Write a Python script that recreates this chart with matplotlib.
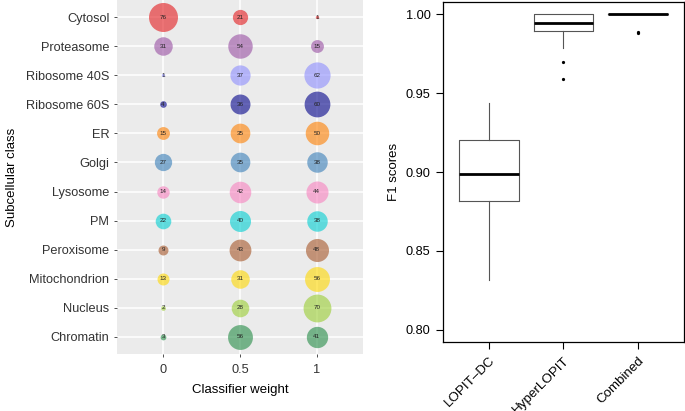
import matplotlib
matplotlib.use('Agg')
import matplotlib.pyplot as plt
import numpy as np

plt.rcParams['font.family'] = ['Liberation Sans', 'DejaVu Sans']

# bubble panel data
classes = ['Cytosol', 'Proteasome', 'Ribosome 40S', 'Ribosome 60S', 'ER', 'Golgi',
           'Lysosome', 'PM', 'Peroxisome', 'Mitochondrion', 'Nucleus', 'Chromatin']
weights = ['0', '0.5', '1']
counts_w0 = [76, 31, 1, 4, 15, 27, 14, 22, 9, 13, 2, 3]
counts_w05 = [21, 54, 37, 36, 35, 35, 42, 40, 43, 31, 28, 56]
counts_w1 = [1, 15, 62, 60, 50, 38, 44, 38, 48, 56, 70, 41]
class_colours = ['#E41A1C', '#984EA3', '#8C8CFF', '#00008A', '#FF7F00', '#377EB8',
                 '#F781BF', '#00CED1', '#A65628', '#FFD700', '#9ACD32', '#238B45']

# boxplot panel data
methods = ['LOPIT\u2013DC', 'HyperLOPIT', 'Combined']
q1 = [0.8818, 0.9892, 1.0]
med = [0.8989, 0.9941, 1.0]
q3 = [0.9203, 1.0, 1.0]
whis_lo = [0.8316, 0.9787, 1.0]
whis_hi = [0.9435, 1.0, 1.0]
outliers = [[], [0.9694, 0.9589], [0.9886, 0.9879]]

fig = plt.figure(figsize=(6.85, 4.11), dpi=100)

# ---- left: bubble chart
ax = fig.add_axes([0.1708, 0.1387, 0.359, 0.8613])
ax.set_facecolor('#EBEBEB')
for sp in ax.spines.values():
    sp.set_visible(False)
ax.set_axisbelow(True)
ax.grid(True, color='white', linewidth=1.1)

counts = [counts_w0, counts_w05, counts_w1]
for ix, col in enumerate(counts):
    for iy, v in enumerate(col):
        ax.scatter(ix, iy, s=v * 5.74, color=class_colours[iy], alpha=0.6,
                   linewidths=0, zorder=2)
        ax.text(ix, iy, str(v), ha='center', va='center', fontsize=4.5,
                color='#222222', zorder=3)

ax.set_xlim(-0.6, 2.6)
ax.set_ylim(len(classes) - 0.4, -0.6)
ax.set_xticks(range(len(weights)))
ax.set_xticklabels(weights)
ax.set_yticks(range(len(classes)))
ax.set_yticklabels(classes)
ax.tick_params(length=2.5, width=0.6, color='#333333', labelsize=9.2,
               labelcolor='#333333', pad=3)
ax.tick_params(axis='x', pad=4.5)
ax.set_xlabel('Classifier weight', fontsize=9.5, labelpad=6)
ax.set_ylabel('Subcellular class', fontsize=9.5, labelpad=6)

# ---- right: boxplot
bx = fig.add_axes([0.6467, 0.1679, 0.3518, 0.8272])
stats = []
for i in range(len(methods)):
    stats.append(dict(label=methods[i], q1=q1[i], med=med[i], q3=q3[i],
                      whislo=whis_lo[i], whishi=whis_hi[i], fliers=outliers[i]))
bx.bxp(stats, positions=[1, 2, 3], widths=0.8, showcaps=False,
       boxprops=dict(color='#555555', linewidth=0.8),
       whiskerprops=dict(color='#555555', linewidth=0.8),
       medianprops=dict(color='black', linewidth=2),
       flierprops=dict(marker='o', markersize=1.3, markerfacecolor='black',
                       markeredgecolor='black'))
bx.set_xlim(0.38, 3.62)
bx.set_ylim(0.7924, 1.0076)
bx.set_yticks([0.80, 0.85, 0.90, 0.95, 1.00])
bx.set_yticklabels(['0.80', '0.85', '0.90', '0.95', '1.00'])
bx.set_xticks([1, 2, 3])
bx.set_xticklabels(methods, rotation=45, ha='right', rotation_mode='anchor')
bx.tick_params(length=5, width=0.8, labelsize=9.2, pad=4)
bx.tick_params(axis='x', labelsize=9.6)
for sp in bx.spines.values():
    sp.set_linewidth(0.9)
bx.set_ylabel('F1 scores', fontsize=9.5, labelpad=4)

fig.savefig('out.png', dpi=100)
